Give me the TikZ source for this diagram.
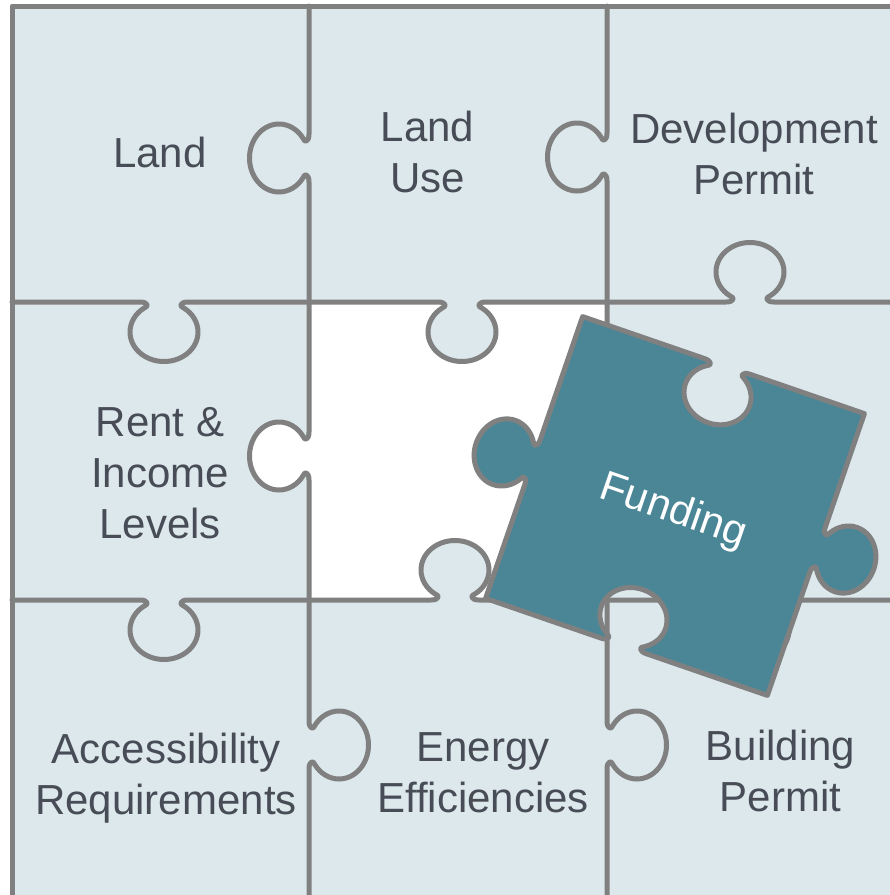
\documentclass[tikz,border=0pt]{standalone}
\usepackage{fontspec}
\setmainfont[Ligatures=CommonOff]{Liberation Sans}
\definecolor{tilefill}{RGB}{220,232,236}
\definecolor{seam}{RGB}{128,128,128}
\definecolor{fundfill}{RGB}{74,134,150}
\definecolor{labeltext}{RGB}{72,76,86}

% Local frames for a jigsaw tab: u runs along the edge in the direction of travel,
% v points to the side the knob bulges into (r/l/u/d = right/left/up/down on the page).
\tikzset{
  tab rd/.style={shift={(#1)}},
  tab ru/.style={shift={(#1)},yscale=-1},
  tab lu/.style={shift={(#1)},rotate=180},
  tab ld/.style={shift={(#1)},rotate=180,yscale=-1},
  tab dl/.style={shift={(#1)},rotate=-90},
  tab dr/.style={shift={(#1)},rotate=-90,yscale=-1},
  tab ur/.style={shift={(#1)},rotate=90},
  tab ul/.style={shift={(#1)},rotate=90,yscale=-1},
  seamline/.style={draw=seam, line width=5pt, line join=round, line cap=round},
  tiletext/.style={text=labeltext, font=\fontsize{42}{51}\selectfont,
    align=center, inner sep=0pt, anchor=north},
}

% One knob: neck fillet, elliptical bulb, neck fillet (frame #1 placed at #2)
\newcommand\tabto[2]{%
  -- ([#1={#2}]-24,0)
  .. controls ([#1={#2}]-16,0) and ([#1={#2}]-15,4.5) .. ([#1={#2}]-19.5,5.8)
  .. controls ([#1={#2}]-28.6,11.3) and ([#1={#2}]-34,20.4) .. ([#1={#2}]-34,30)
  .. controls ([#1={#2}]-34,46.3) and ([#1={#2}]-18.8,59.5) .. ([#1={#2}]0,59.5)
  .. controls ([#1={#2}]18.8,59.5) and ([#1={#2}]34,46.3) .. ([#1={#2}]34,30)
  .. controls ([#1={#2}]34,20.4) and ([#1={#2}]28.6,11.3) .. ([#1={#2}]19.5,5.8)
  .. controls ([#1={#2}]15,4.5) and ([#1={#2}]16,0) .. ([#1={#2}]24,0)}

\begin{document}
\begin{tikzpicture}[x=1pt, y=-1pt]
  \useasboundingbox (0,0) rectangle (890,895);
  \clip (0,0) rectangle (890,895);

  % board
  \fill[tilefill] (12,6) rectangle (904,897);

  % empty centre slot, with the neighbours' knobs reaching into it
  \fill[white] (309,302) rectangle (607,600);
  \fill[tilefill] (438,302) \tabto{tab rd}{462,302} -- cycle;
  \fill[tilefill] (431,600) \tabto{tab ru}{455,600} -- cycle;
  \fill[white] (309,432) \tabto{tab dl}{309,456} -- cycle;
  \fill[white] (607,422) \tabto{tab dr}{607,446} -- cycle;

  % seams
  \draw[seamline] (904,6) -- (12,6) -- (12,897);
  \draw[seamline] (309,6) \tabto{tab dl}{309,158} -- (309,302);
  \draw[seamline] (607,6) \tabto{tab dl}{607,157} -- (607,302);
  \draw[seamline] (12,302) \tabto{tab rd}{164,302} -- (309,302);
  \draw[seamline] (309,302) \tabto{tab rd}{462,302} -- (607,302);
  \draw[seamline] (607,302) \tabto{tab ru}{750,302} -- (904,302);
  \draw[seamline] (309,302) \tabto{tab dl}{309,456} -- (309,600);
  \draw[seamline] (607,302) \tabto{tab dr}{607,446} -- (607,600);
  \draw[seamline] (12,600) \tabto{tab rd}{164,600} -- (309,600);
  \draw[seamline] (309,600) \tabto{tab ru}{455,600} -- (607,600);
  \draw[seamline] (607,600) \tabto{tab rd}{755,600} -- (904,600);
  \draw[seamline] (309,600) \tabto{tab dr}{309,745} -- (309,897);
  \draw[seamline] (607,600) \tabto{tab dr}{607,745} -- (607,897);

  % labels
  \node[tiletext] (land) at (160,136.6) {Land};
  \node[tiletext] (landuse) at (427.5,110.9) {Land\\Use};
  \node[tiletext] (devpermit) at (754,113.2) {Development\\Permit};
  \node[tiletext] (rent) at (160,406.9) {Rent \&\\Income\\Levels};
  \node[tiletext] (access) at (166,732.9) {Accessibility\\Requirements};
  \node[tiletext] (energy) at (483,732.6) {Energy\\Efficiencies};
  \node[tiletext] (building) at (780.5,729.9) {Building\\Permit};

  % the loose piece
  \begin{scope}[shift={(675,506)}, rotate=-19]
    \filldraw[seamline, fill=fundfill]
      (-149,-149) \tabto{tab rd}{4,-149}
      -- (149,-149) \tabto{tab dr}{149,-5}
      -- (149,149) \tabto{tab lu}{-3,149}
      -- (-149,149) \tabto{tab ul}{-149,5}
      -- cycle;
    \node[text=white, font=\fontsize{42}{51}\selectfont, inner sep=0pt,
      anchor=base, rotate=-19] (funding) at (0,17) {Funding};
  \end{scope}
\end{tikzpicture}
\end{document}
